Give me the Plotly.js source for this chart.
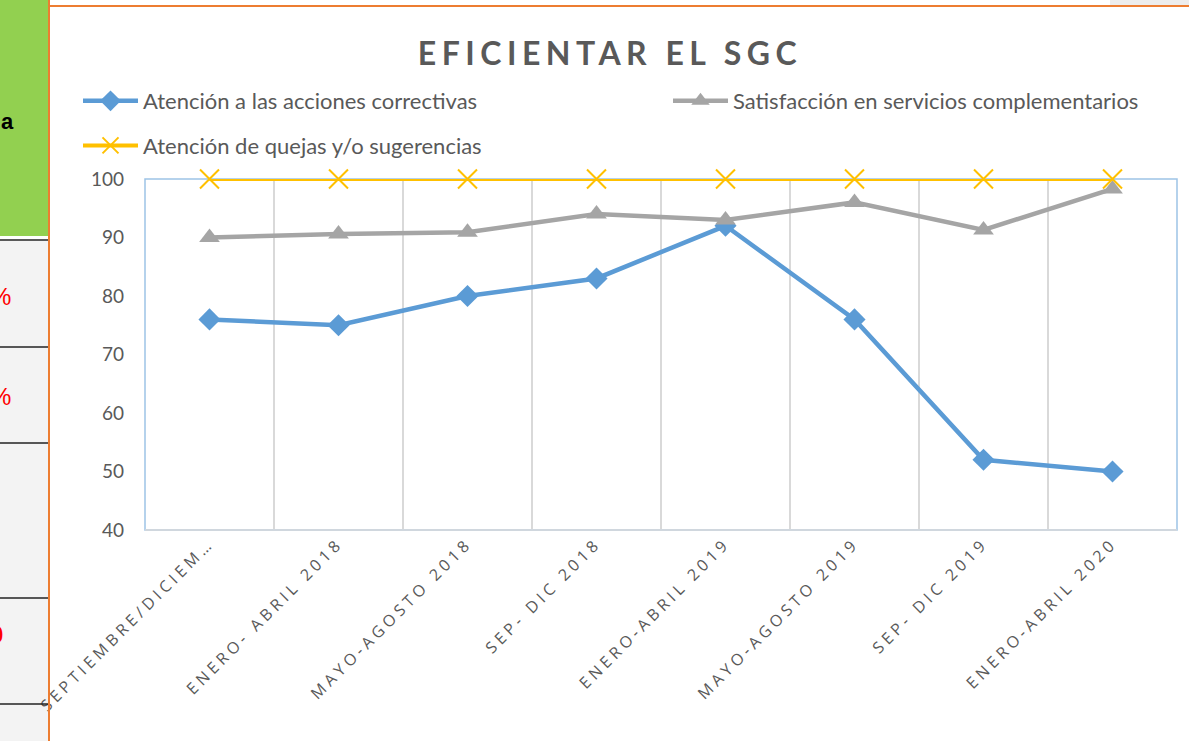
<!DOCTYPE html>
<html>
<head>
<meta charset="utf-8">
<script src="https://cdn.plot.ly/plotly-3.0.1.min.js"></script>
<style>
  html, body { margin: 0; padding: 0; background: #fff; }
  #chart { width: 1189px; height: 741px; }
  .xtick text { letter-spacing: 4px; }
  .gtitle { letter-spacing: 5.5px; }
</style>
</head>
<body>
<div id="chart"></div>
<script>
// ---- data ----
const categories = [
  "SEPTIEMBRE/DICIEM…",
  "ENERO- ABRIL 2018",
  "MAYO-AGOSTO 2018",
  "SEP- DIC 2018",
  "ENERO-ABRIL 2019",
  "MAYO-AGOSTO 2019",
  "SEP- DIC 2019",
  "ENERO-ABRIL 2020"
];
const accionesCorrectivas = [76, 75, 80, 83, 92, 76, 52, 50];
const satisfaccionServicios = [90, 90.6, 90.9, 94, 93, 96, 91.3, 98.3];
const quejasSugerencias = [100, 100, 100, 100, 100, 100, 100, 100];
const seriesNames = [
  "Atención a las acciones correctivas",
  "Satisfacción en servicios complementarios",
  "Atención de quejas y/o sugerencias"
];
const yTicks = [40, 50, 60, 70, 80, 90, 100];

// ---- layout helpers (pixel -> paper) ----
const W = 1189, H = 741;
const M = { l: 145, r: 12, t: 179, b: 211, autoexpand: false };
const PW = W - M.l - M.r, PH = H - M.t - M.b;
const px = x => (x - M.l) / PW;
const py = y => (H - M.b - y) / PH;

const txtColor = "#595959";
const font = "Lato, 'Open Sans', sans-serif";

const traces = [
  {
    x: categories, y: accionesCorrectivas, name: seriesNames[0],
    type: "scatter", mode: "lines+markers", cliponaxis: false,
    line: { color: "#5B9BD5", width: 4.5 },
    marker: { symbol: "diamond", size: 17, color: "#5B9BD5" },
    legend: "legend", legendgroup: "a"
  },
  {
    x: categories, y: satisfaccionServicios, name: seriesNames[1],
    type: "scatter", mode: "lines+markers", cliponaxis: false,
    line: { color: "#A5A5A5", width: 4.5 },
    marker: { symbol: "triangle-up", size: 18, color: "#A5A5A5" },
    legend: "legend2", legendgroup: "b"
  },
  {
    x: categories, y: quejasSugerencias, name: seriesNames[2],
    type: "scatter", mode: "lines+markers", cliponaxis: false,
    line: { color: "#FFC000", width: 4 },
    marker: { symbol: "x-thin", size: 19, color: "#FFC000", line: { color: "#FFC000", width: 2 } },
    legend: "legend", legendgroup: "c"
  }
];

const shapes = [
  { type: "rect", xref: "paper", yref: "paper", x0: 0, x1: 1, y0: 0, y1: 1,
    line: { color: "#9DC3E6", width: 1.5 }, layer: "below" },
  { type: "line", xref: "paper", yref: "paper", x0: 0, x1: 1, y0: 0, y1: 0,
    line: { color: "#D0D7DE", width: 2 } },
  { type: "rect", xref: "paper", yref: "paper", x0: px(1110), x1: px(1189), y0: py(0), y1: py(5),
    line: { width: 0 }, fillcolor: "#EDEDED", layer: "below" },
  { type: "rect", xref: "paper", yref: "paper", x0: px(0), x1: px(48), y0: py(0), y1: py(236),
    line: { width: 0 }, fillcolor: "#92D050", layer: "below" },
  { type: "rect", xref: "paper", yref: "paper", x0: px(0), x1: px(48), y0: py(241), y1: py(741),
    line: { width: 0 }, fillcolor: "#F3F3F3", layer: "below" },
  { type: "line", xref: "paper", yref: "paper", x0: px(49), x1: px(49), y0: py(0), y1: py(741),
    line: { color: "#ED7D31", width: 2 } },
  { type: "line", xref: "paper", yref: "paper", x0: px(49), x1: px(1189), y0: py(6), y1: py(6),
    line: { color: "#ED7D31", width: 2 } },
  ...[240, 347, 443, 598, 704].map(y => ({
    type: "line", xref: "paper", yref: "paper", x0: px(0), x1: px(48), y0: py(y), y1: py(y),
    line: { color: "#222", width: 1.5 }
  }))
];

const annotations = [
  { xref: "paper", yref: "paper", x: px(-1), y: py(122), text: "a", showarrow: false,
    xanchor: "left", yanchor: "middle", font: { family: "Liberation Sans, Arial", size: 22, color: "#000", weight: "bold" } },
  { xref: "paper", yref: "paper", x: px(-12), y: py(296), text: "%", showarrow: false,
    xanchor: "left", yanchor: "middle", font: { family: "Liberation Sans, Arial", size: 24, color: "#FF0000" } },
  { xref: "paper", yref: "paper", x: px(-12), y: py(396), text: "%", showarrow: false,
    xanchor: "left", yanchor: "middle", font: { family: "Liberation Sans, Arial", size: 24, color: "#FF0000" } },
  { xref: "paper", yref: "paper", x: px(-12), y: py(634), text: "0", showarrow: false,
    xanchor: "left", yanchor: "middle", font: { family: "Liberation Sans, Arial", size: 24, color: "#FF0000", weight: "bold" } }
];

const layout = {
  width: W, height: H,
  margin: M,
  paper_bgcolor: "#ffffff",
  plot_bgcolor: "#ffffff",
  font: { family: font, color: txtColor },
  title: {
    text: "EFICIENTAR EL SGC",
    x: 610 / W, xanchor: "center",
    y: 1 - 54 / H, yanchor: "middle", xref: "container", yref: "container",
    font: { family: "Lato, 'Open Sans', sans-serif", size: 32, color: txtColor, weight: "bold" }
  },
  xaxis: {
    type: "category",
    range: [-0.5, categories.length - 0.5],
    tickson: "boundaries",
    showgrid: true, gridcolor: "#D9D9D9", gridwidth: 1.5,
    showline: false, zeroline: false,
    ticks: "", tickangle: -45, automargin: false,
    tickfont: { family: "'Open Sans', sans-serif", size: 16, color: txtColor },
    fixedrange: true
  },
  yaxis: {
    range: [40, 100],
    tickvals: yTicks, ticktext: yTicks.map(String),
    showgrid: false, zeroline: false, showline: false,
    ticks: "", ticklabelstandoff: 20, automargin: false,
    tickfont: { family: font, size: 19, color: txtColor },
    fixedrange: true
  },
  legend: {
    xref: "container", yref: "container",
    x: 78 / W, xanchor: "left",
    y: 1 - 80 / H, yanchor: "top",
    orientation: "v", traceorder: "grouped", tracegroupgap: 13,
    font: { family: font, size: 22, color: txtColor },
    bgcolor: "rgba(0,0,0,0)", itemwidth: 55
  },
  legend2: {
    xref: "container", yref: "container",
    x: 668 / W, xanchor: "left",
    y: 1 - 80 / H, yanchor: "top",
    orientation: "v",
    font: { family: font, size: 22, color: txtColor },
    bgcolor: "rgba(0,0,0,0)", itemwidth: 55
  },
  shapes: shapes,
  annotations: annotations,
  showlegend: true
};

Plotly.newPlot("chart", traces, layout, { displayModeBar: false, staticPlot: true });
</script>
</body>
</html>
